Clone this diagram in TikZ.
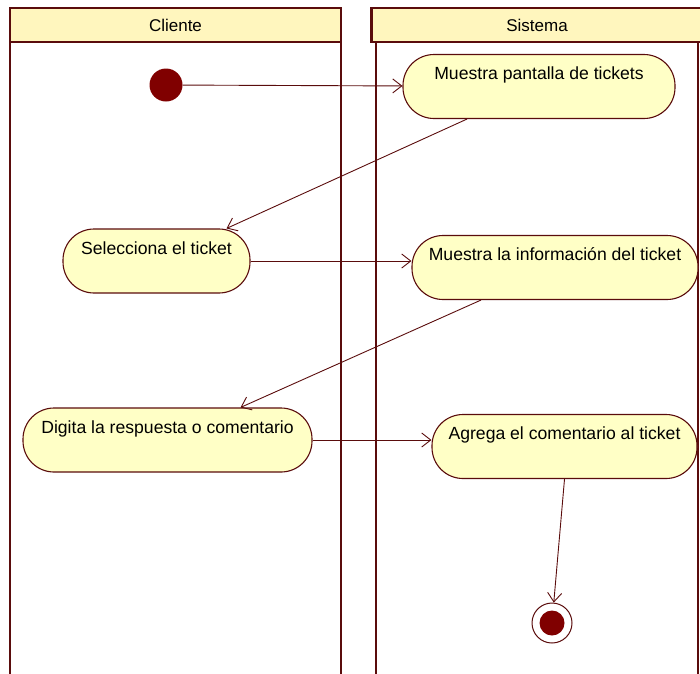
\documentclass[tikz,border=0pt]{standalone}
\usepackage{fontspec}
\setmainfont{Liberation Sans}
\usetikzlibrary{arrows.meta, positioning, calc}
\definecolor{umlborde}{RGB}{90,12,12}
\definecolor{umlrojo}{RGB}{128,0,0}
\definecolor{umlamarillo}{RGB}{255,255,198}
\definecolor{umlcabecera}{RGB}{255,246,190}

\begin{document}
\begin{tikzpicture}[
  x=1pt, y=-1pt,
  font=\fontsize{17.6}{20}\selectfont,
  carril/.style={draw=umlborde, line width=2.8pt},
  cabecera/.style={rectangle, draw=umlborde, line width=2.8pt, fill=umlcabecera, minimum width=331pt, minimum height=34pt, inner sep=0pt, font=\fontsize{17}{20}\selectfont},
  accion/.style={rectangle, draw=umlborde, line width=1.1pt, fill=umlamarillo, rounded corners=31pt, minimum height=64pt, inner xsep=6pt, inner ysep=5pt, text height=20pt, text depth=34pt, align=center},
  inicio/.style={circle, fill=umlrojo, minimum size=33pt, inner sep=0pt},
  fin/.style={circle, draw=umlborde, line width=1pt, fill=white, minimum size=40pt, inner sep=0pt,
    path picture={\fill[umlrojo] (path picture bounding box.center) circle (12.5pt);}},
  flujo/.style={-{Straight Barb[length=9pt, width=14pt]}, draw=umlborde, line width=0.9pt}
]
  \useasboundingbox (0,0) rectangle (700,673);

  % Carriles
  \draw[carril] (10,680) -- (10,8) -- (341,8) -- (341,680);
  \draw[carril] (376,680) -- (376,8) -- (698,8) -- (698,680);
  \node[cabecera] (cliente) at (175.5,25) {Cliente};
  \node[cabecera] (sistema) at (537,25) {Sistema};

  % Nodos inicial y final
  \node[inicio] (ini) at (166,85) {};
  \node[fin] (final) at (552,623) {};

  % Acciones
  \node[accion, minimum width=272pt] (muestra) at (539,86.5) {Muestra pantalla de tickets};
  \node[accion, minimum width=187pt] (selecciona) at (156.5,261) {Selecciona el ticket};
  \node[accion, minimum width=286pt] (info) at (555,267.5) {Muestra la información del ticket};
  \node[accion, minimum width=289pt] (digita) at (167.5,440) {Digita la respuesta o comentario};
  \node[accion, minimum width=265pt] (agrega) at (564.5,446.5) {Agrega el comentario al ticket};

  % Flujos
  \draw[flujo] (ini) -- (muestra);
  \draw[flujo] ([xshift=-72pt]muestra.south) -- ([xshift=70pt]selecciona.north);
  \draw[flujo] (selecciona.east) -- (selecciona.east -| info.west);
  \draw[flujo] ([xshift=-74pt]info.south) -- ([xshift=73pt]digita.north);
  \draw[flujo] (digita.east) -- (digita.east -| agrega.west);
  \draw[flujo] (agrega.south) -- (final);
\end{tikzpicture}
\end{document}
